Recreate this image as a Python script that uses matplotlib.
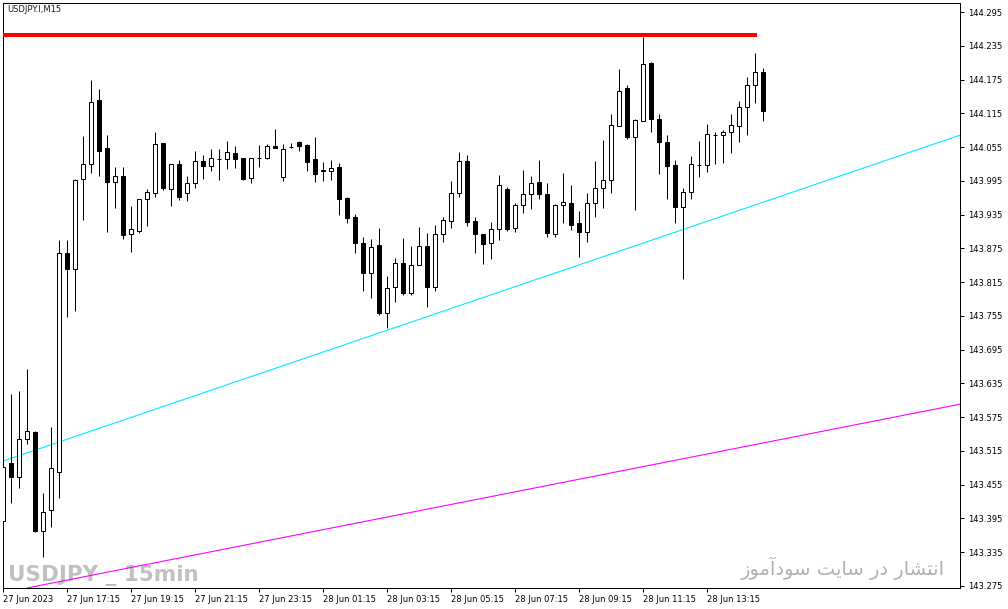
import numpy as np
import matplotlib
matplotlib.use("Agg")
import matplotlib.pyplot as plt

plt.rcParams["font.family"] = ["DejaVu Sans"]

# USDJPY.I M15 bars, first bar = 27 Jun 2023 15:15
opens = [143.390, 143.494, 143.469, 143.536, 143.549, 143.373, 143.410, 143.478, 143.867, 143.838,
         143.998, 144.025, 144.139, 144.053, 143.993, 144.004, 143.900, 143.906, 143.963, 143.973,
         144.062, 143.980, 144.025, 143.973, 143.991, 144.030, 144.021, 144.034, 144.034, 144.044,
         144.036, 144.000, 144.036, 144.036, 144.057, 144.002, 144.055, 144.064, 144.059, 144.034,
         144.014, 144.012, 144.020, 143.964, 143.931, 143.885, 143.831, 143.881, 143.760, 143.806,
         143.849, 143.796, 143.845, 143.879, 143.806, 143.900, 143.924, 143.973, 144.030, 143.924,
         143.900, 143.885, 143.909, 143.980, 143.911, 143.952, 143.972, 143.993, 143.972, 143.900,
         143.952, 143.956, 143.920, 143.904, 143.956, 143.982, 143.996, 144.092, 144.160, 144.073,
         144.101, 144.204, 144.105, 144.064, 144.023, 143.948, 143.975, 144.023, 144.023, 144.076,
         144.076, 144.082, 144.092, 144.126, 144.165, 144.188]
highs = [143.490, 143.616, 143.622, 143.661, 143.550, 143.440, 143.558, 143.890, 143.890, 143.998,
         144.075, 144.174, 144.158, 144.076, 144.020, 144.020, 143.950, 143.963, 143.980, 144.082,
         144.062, 144.025, 144.032, 144.004, 144.048, 144.041, 144.052, 144.052, 144.066, 144.057,
         144.036, 144.036, 144.059, 144.060, 144.087, 144.060, 144.062, 144.066, 144.060, 144.073,
         144.028, 144.032, 144.027, 143.966, 143.936, 143.895, 143.892, 143.911, 143.826, 143.858,
         143.893, 143.879, 143.913, 143.902, 143.916, 143.931, 143.995, 144.046, 144.041, 143.931,
         143.900, 143.922, 144.005, 143.984, 143.956, 144.014, 144.004, 144.032, 143.991, 143.954,
         144.009, 143.988, 143.941, 143.973, 144.030, 144.068, 144.114, 144.194, 144.165, 144.105,
         144.251, 144.206, 144.114, 144.076, 144.032, 143.982, 144.039, 144.066, 144.096, 144.082,
         144.085, 144.114, 144.137, 144.179, 144.222, 144.195]
lows = [143.387, 143.422, 143.449, 143.527, 143.371, 143.327, 143.380, 143.431, 143.753, 143.764,
        143.925, 144.009, 144.004, 143.904, 143.947, 143.892, 143.869, 143.902, 143.915, 143.966,
        143.979, 143.950, 143.961, 143.959, 143.982, 143.998, 144.012, 143.996, 144.016, 144.018,
        143.996, 143.991, 144.020, 144.034, 144.053, 143.995, 144.053, 144.048, 144.012, 143.993,
        143.995, 143.996, 143.934, 143.920, 143.867, 143.799, 143.787, 143.757, 143.733, 143.780,
        143.792, 143.792, 143.845, 143.771, 143.799, 143.886, 143.911, 143.966, 143.915, 143.867,
        143.847, 143.856, 143.890, 143.906, 143.904, 143.938, 143.945, 143.963, 143.895, 143.895,
        143.920, 143.908, 143.860, 143.886, 143.931, 143.947, 143.973, 144.092, 144.069, 143.943,
        144.101, 144.082, 144.007, 143.963, 143.920, 143.821, 143.963, 144.002, 144.011, 144.025,
        144.027, 144.044, 144.064, 144.076, 144.133, 144.101]
closes = [143.486, 143.469, 143.536, 143.550, 143.373, 143.407, 143.485, 143.867, 143.838, 143.996,
          144.025, 144.135, 144.048, 143.993, 144.004, 143.899, 143.909, 143.963, 143.975, 144.060,
          143.982, 144.025, 143.966, 143.991, 144.030, 144.021, 144.036, 144.034, 144.046, 144.034,
          143.998, 144.036, 144.036, 144.057, 144.053, 144.052, 144.055, 144.057, 144.028, 144.007,
          144.012, 144.018, 143.963, 143.929, 143.885, 143.831, 143.877, 143.760, 143.805, 143.849,
          143.796, 143.845, 143.879, 143.806, 143.900, 143.925, 143.973, 144.030, 143.922, 143.900,
          143.883, 143.909, 143.988, 143.909, 143.952, 143.972, 143.991, 143.972, 143.902, 143.952,
          143.957, 143.916, 143.904, 143.956, 143.982, 143.996, 144.094, 144.155, 144.073, 144.103,
          144.203, 144.105, 144.064, 144.021, 143.948, 143.975, 144.025, 144.023, 144.078, 144.076,
          144.082, 144.094, 144.126, 144.165, 144.188, 144.119]

time_labels = ["27 Jun 2023", "27 Jun 17:15", "27 Jun 19:15", "27 Jun 21:15", "27 Jun 23:15",
               "28 Jun 01:15", "28 Jun 03:15", "28 Jun 05:15", "28 Jun 07:15", "28 Jun 09:15",
               "28 Jun 11:15", "28 Jun 13:15"]
price_ticks = [143.275, 143.335, 143.395, 143.455, 143.515, 143.575, 143.635, 143.695, 143.755,
               143.815, 143.875, 143.935, 143.995, 144.055, 144.115, 144.175, 144.235, 144.295]

# drawn objects
resist_level = 144.254
resist_end = 94.25
trend_cyan = [(0, 143.497), (119.6, 144.076)]
trend_magenta = [(0, 143.263), (119.6, 143.598)]

o = np.array(opens)
h = np.array(highs)
l = np.array(lows)
c = np.array(closes)
x = np.arange(len(o))

fig = plt.figure(figsize=(10.08, 6.09), dpi=100)
ax = fig.add_axes([2.5 / 1008, 21 / 609, 957.5 / 1008, 585.5 / 609])

px = 0.72
ax.vlines(x, l, h, color="black", lw=px, zorder=3)
up = c >= o
ax.bar(x[up], (c - o)[up], bottom=o[up], width=0.42, facecolor="white",
       edgecolor="black", lw=px, zorder=4)
ax.bar(x[~up], (o - c)[~up], bottom=c[~up], width=0.42, facecolor="black",
       edgecolor="black", lw=px, zorder=4)

ax.hlines(resist_level, -1, resist_end, color="#ff0000", lw=2.9, zorder=5)
ax.axline(trend_cyan[0], trend_cyan[1], color="#00e8ff", lw=0.8, zorder=2)
ax.axline(trend_magenta[0], trend_magenta[1], color="#ff00ff", lw=0.8, zorder=2)

ax.set_xlim(-0.0625, 119.625)
ax.set_ylim(143.2714, 144.3119)

ax.yaxis.tick_right()
ax.set_yticks(price_ticks, ["%.3f" % v for v in price_ticks])
ax.set_xticks(np.arange(len(time_labels)) * 8, time_labels)
for lbl in ax.get_xticklabels():
    lbl.set_ha("left")
ax.tick_params(axis="y", direction="out", length=3, width=px, labelsize=6, pad=3)
ax.tick_params(axis="x", direction="out", length=3, width=px, labelsize=6, pad=2)
for s in ax.spines.values():
    s.set_linewidth(px)
    s.set_color("black")

fig.text(7 / 1008, 1 - 10 / 609, "USDJPY.I,M15", fontsize=6, va="center", ha="left",
         color="#1a1a1a")

# watermarks
ax.text(8 / 1008, 1 - 581 / 609, "USDJPY _ 15min", transform=fig.transFigure,
        fontsize=15.5, fontweight="bold", color="#c0c0c0",
        family=["Liberation Sans Narrow", "DejaVu Sans"], va="baseline", ha="left", zorder=1)
# "انتشار در سایت سودآموز" in shaped, visual order
fa_text = ("\ufeaf\ufeee\ufee3\ufe81\ufea9\ufeee\ufeb3 "
           "\ufe96\ufef3\ufe8e\ufeb3 "
           "\ufead\ufea9 "
           "\ufead\ufe8e\ufeb8\ufe98\ufee7\ufe8d")
ax.text(945 / 1008, 1 - 575 / 609, fa_text, transform=fig.transFigure,
        fontsize=14, color="#b0b0b0", family=["DejaVu Sans"], va="baseline", ha="right", zorder=1)

fig.savefig("out.png", dpi=100, facecolor="white")
